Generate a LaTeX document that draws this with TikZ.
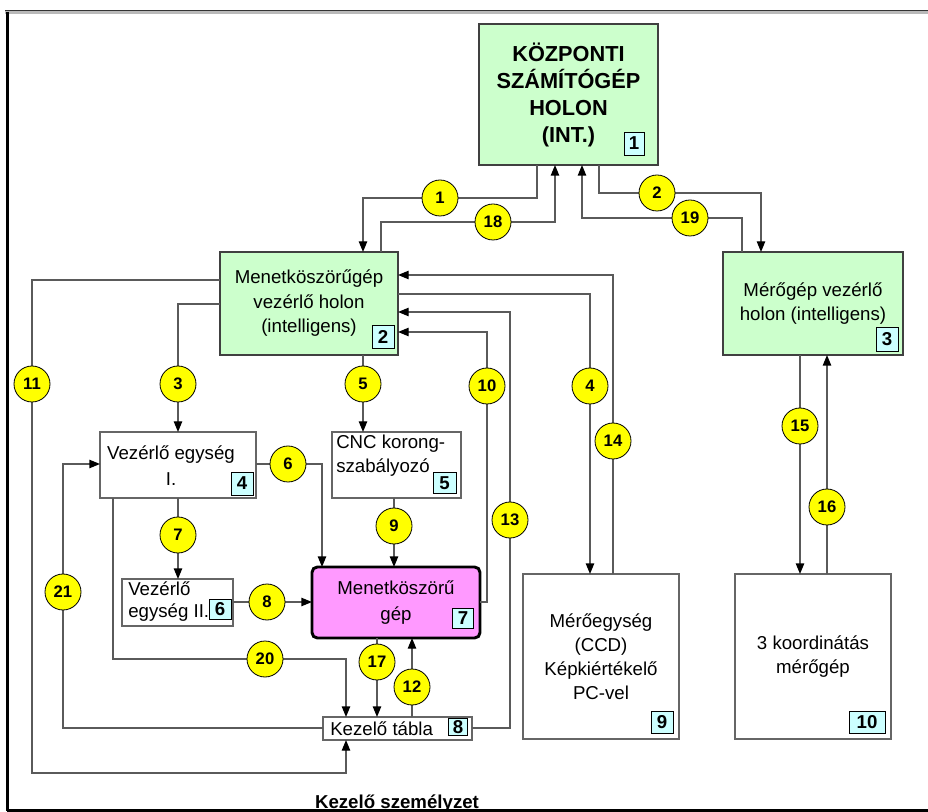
\documentclass[tikz,border=0pt]{standalone}
\usepackage{fontspec}
\setmainfont{Liberation Sans}
\usetikzlibrary{arrows.meta}
\definecolor{holon}{HTML}{CCFFCC}
\definecolor{tagfill}{HTML}{CCFFFF}
\definecolor{machine}{HTML}{FF99FF}
\definecolor{wirecol}{HTML}{5A5A5A}
\definecolor{ball}{HTML}{FFFF00}

\begin{document}
\begin{tikzpicture}[x=0.75pt,y=-0.75pt,
  sz/.style 2 args={minimum width=#1*0.75pt, minimum height=#2*0.75pt},
  box/.style={draw=black!75, line width=0.8pt, inner sep=0pt, outer sep=0pt},
  holonbox/.style={box, fill=holon, font=\fontsize{14}{18.4}\selectfont, align=center},
  plainbox/.style={box, draw=black!60, fill=white},
  tag/.style={draw=black, line width=0.7pt, fill=tagfill, inner sep=0pt,
    font=\fontsize{14}{14}\selectfont\bfseries},
  num/.style={circle, draw=black, line width=0.6pt, fill=ball, minimum size=27pt,
    inner sep=0pt, font=\fontsize{12.5}{12.5}\selectfont\bfseries},
  wire/.style={draw=wirecol, line width=1pt},
  arr/.style={wire, -{Triangle[length=8pt,width=6.3pt,color=black]}},
  txt/.style={font=\fontsize{14}{18}\selectfont, inner sep=0pt},
]
\useasboundingbox (0,0) rectangle (928,812);

% ---------- boxes ----------
\node[holonbox, sz={179}{141}, font=\fontsize{16.3}{20.25}\selectfont\bfseries]
  (b1) at (568.5,94.5) {KÖZPONTI\\SZÁMÍTÓGÉP\\HOLON\\(INT.)};
\node[holonbox, sz={178}{103}] (b2) at (309,303.5)
  {Menetköszörűgép\\vezérlő holon\\(intelligens)};
\node[holonbox, sz={180}{103}] (b3) at (813,303.5)
  {Mérőgép vezérlő\\holon (intelligens)};
\node[plainbox, sz={156}{66}] (b4) at (178,465) {};
\node[plainbox, sz={129}{66}] (b5) at (396.5,465) {};
\node[plainbox, sz={111}{47}] (b6) at (177.5,602.5) {};
\node[box, draw=black, line width=2.2pt, rounded corners=4pt, fill=machine,
  sz={168}{71}, align=center, font=\fontsize{14}{19.5}\selectfont]
  (b7) at (396,602.5) {Menetköszörű\\gép};
\node[plainbox, sz={149}{23}] (b8) at (397.5,728.5) {};
\node[plainbox, sz={156}{165}, align=center, font=\fontsize{14}{18}\selectfont]
  (b9) at (601,656.5) {Mérőegység\\(CCD)\\Képkiértékelő\\PC-vel};
\node[plainbox, sz={156}{165}, align=center, font=\fontsize{14}{18}\selectfont]
  (b10) at (813,656.5) {3 koordinátás\\mérőgép};

% texts of the white boxes
\node[txt, align=center, font=\fontsize{14}{19.5}\selectfont] (b4t) at (171,466)
  {Vezérlő egység\\I.};
\node[txt, align=left, anchor=west] (b5t) at (336,456)
  {CNC korong-\\szabályozó};
\node[txt, align=left, anchor=west, font=\fontsize{14}{16.5}\selectfont] (b6t) at (128,602)
  {Vezérlő\\egység II.};
\node[txt, anchor=west] (b8t) at (330,728.5) {Kezelő tábla};

% ---------- number tags ----------
\node[tag, sz={20}{23}] (t1) at (634,143.5) {1};
\node[tag, sz={22}{23}] (t2) at (383,336.5) {2};
\node[tag, sz={22}{24}] (t3) at (887,339) {3};
\node[tag, sz={22}{23}] (t4) at (242,483.5) {4};
\node[tag, sz={23}{21}] (t5) at (444.5,483) {5};
\node[tag, sz={22}{20}] (t6) at (220,609) {6};
\node[tag, sz={21}{20}] (t7) at (463,618.5) {7};
\node[tag, sz={19}{17}] (t8) at (458,727) {8};
\node[tag, sz={22}{22}] (t9) at (662,722) {9};
\node[tag, sz={36}{22}] (t10) at (867,722) {10};

% ---------- connectors ----------
\draw[arr] (b1.south -| 537,0) -- (537,198) -- (363,198) -- (b2.north -| 363,0);
\draw[arr] (b2.north -| 381,0) -- (381,222) -- (555,222) -- (b1.south -| 555,0);
\draw[arr] (b1.south -| 599,0) -- (599,193) -- (761,193) -- (b3.north -| 761,0);
\draw[arr] (b3.north -| 742,0) -- (742,218) -- (582,218) -- (b1.south -| 582,0);
\draw[arr] (b2.west |- 0,280) -- (32,280) -- (32,773) -- (346,773) -- (b8.south -| 346,0);
\draw[arr] (b2.west |- 0,304) -- (178,304) -- (b4.north -| 178,0);
\draw[arr] (b2.south -| 363,0) -- (b5.north -| 363,0);
\draw[arr] (b7.east |- 0,602) -- (487,602) -- (487,332) -- (b2.east |- 0,332);
\draw[arr] (b8.east |- 0,728) -- (510,728) -- (510,312) -- (b2.east |- 0,312);
\draw[arr] (b2.east |- 0,294) -- (590,294) -- (b9.north -| 590,0);
\draw[arr] (b9.north -| 613,0) -- (613,275) -- (b2.east |- 0,275);
\draw[arr] (b3.south -| 800,0) -- (b10.north -| 800,0);
\draw[arr] (b10.north -| 827,0) -- (b3.south -| 827,0);
\draw[arr] (b4.east |- 0,464) -- (322,464) -- (b7.north -| 322,0);
\draw[arr] (b8.west |- 0,728) -- (63,728) -- (63,464) -- (b4.west |- 0,464);
\draw[arr] (b4.south -| 178,0) -- (b6.north -| 178,0);
\draw[arr] (b4.south -| 113,0) -- (113,659) -- (346,659) -- (b8.north -| 346,0);
\draw[arr] (b5.south -| 394,0) -- (b7.north -| 394,0);
\draw[arr] (b6.east |- 0,602) -- (b7.west |- 0,602);
\draw[arr] (b7.south -| 377,0) -- (b8.north -| 377,0);
\draw[arr] (b8.north -| 412,0) -- (b7.south -| 412,0);

% ---------- numbered flow markers ----------
\node[num] (c1)  at (440,198) {1};
\node[num] (c18) at (493,222) {18};
\node[num] (c2)  at (657,193) {2};
\node[num] (c19) at (690,218) {19};
\node[num] (c11) at (32,384)  {11};
\node[num] (c3)  at (178,384) {3};
\node[num] (c5)  at (363,384) {5};
\node[num] (c10) at (487,386) {10};
\node[num] (c4)  at (590,386) {4};
\node[num] (c14) at (613,441) {14};
\node[num] (c15) at (800,426) {15};
\node[num] (c16) at (827,507) {16};
\node[num] (c13) at (510,520) {13};
\node[num] (c6)  at (288,464) {6};
\node[num] (c7)  at (178,535) {7};
\node[num] (c9)  at (394,526) {9};
\node[num] (c21) at (63,592)  {21};
\node[num] (c8)  at (267,602) {8};
\node[num] (c20) at (265,659) {20};
\node[num] (c17) at (377,662) {17};
\node[num] (c12) at (412,687) {12};

% ---------- caption and frame ----------
\node[anchor=base, inner sep=0pt, font=\fontsize{14}{16}\selectfont\bfseries]
  (staff) at (397,808) {Kezelő személyzet};
\fill[gray!55] (5,10) rectangle (928,14);
\draw[black!80, line width=0.6pt] (5,10) -- (928,10);
\draw[black, line width=1.6pt] (7.5,12) -- (7.5,811);
\draw[black, line width=1.6pt] (6.7,810.5) -- (928,810.5);
\end{tikzpicture}
\end{document}
